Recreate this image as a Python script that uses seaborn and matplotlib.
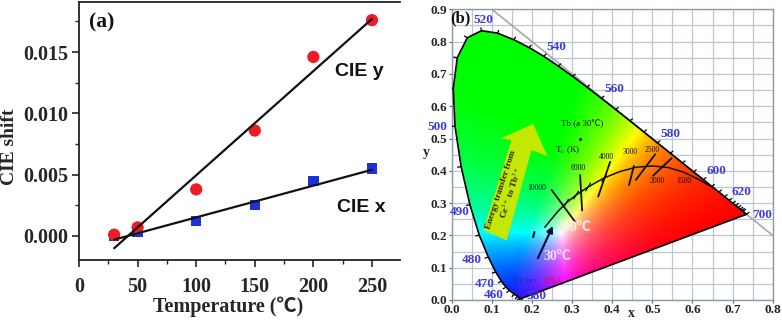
import numpy as np
import pandas as pd
import matplotlib
matplotlib.use("Agg")
import matplotlib.pyplot as plt
from matplotlib.patches import Polygon
from matplotlib.ticker import MultipleLocator
import seaborn as sns

temps = [30, 50, 100, 150, 200, 250]
cie_y = [0.0001, 0.0007, 0.0038, 0.0086, 0.0146, 0.0176]
cie_x = [0.0000, 0.0003, 0.0012, 0.0025, 0.0045, 0.0055]
fit_t = [30, 250]
fit_y = [-0.0010, 0.0177]
fit_x = [-0.0003, 0.0054]

locus_x = [.1741,.1733,.1714,.1689,.1644,.1566,.1440,.1355,.1241,.1096,.0913,.0687,.0454,.0235,.0082,.0039,.0139,.0389,
           .0743,.1142,.1547,.1929,.2296,.2658,.3016,.3373,.3731,.4087,.4441,.4788,.5125,.5448,.5752,.6029,.6270,.6482,
           .6658,.6801,.6915,.7006,.7079,.7140,.7190,.7230,.7260,.7347]
locus_y = [.0050,.0048,.0051,.0069,.0109,.0177,.0297,.0399,.0578,.0868,.1327,.2007,.2950,.4127,.5384,.6548,.7502,.8120,
           .8338,.8262,.8059,.7816,.7543,.7243,.6923,.6589,.6245,.5896,.5547,.5202,.4866,.4544,.4242,.3965,.3725,.3514,
           .3340,.3197,.3083,.2993,.2920,.2859,.2809,.2770,.2740,.2653]
wl_labels = ["520","540","560","580","600","620","700","500","490","480","470","460","380"]
wl_x = [.08,.261,.405,.544,.659,.723,.775,-.036,.021,.050,.083,.104,.212]
wl_y = [.867,.782,.654,.513,.398,.335,.263,.536,.272,.124,.049,.017,.012]
planck_x = [.232,.245,.265,.285,.31,.34,.38,.42,.46,.50,.54,.58,.62,.655]
planck_y = [.225,.245,.275,.30,.325,.35,.378,.398,.411,.415,.41,.395,.37,.345]
iso_x0 = [.249,.320,.395,.454,.507,.548]
iso_x1 = [.307,.325,.365,.442,.459,.502]
iso_y0 = [.341,.387,.428,.415,.451,.439]
iso_y1 = [.243,.277,.320,.356,.372,.385]
cct_labels = ["10000","6000","4000","3000","2500","2000","1500"]
cct_x = [.212,.315,.386,.446,.5,.511,.579]
cct_y = [.348,.410,.443,.458,.463,.367,.367]
arrow_x = [.079,.137,.199,.238,.203,.122,.149]
arrow_y = [.217,.184,.464,.446,.545,.50,.495]

ser = ['Liberation Serif', 'Noto Sans CJK SC', 'DejaVu Sans']
sns.set_theme(style="ticks")
plt.rcParams['font.family'] = ser
plt.rcParams['mathtext.fontset'] = 'stix'

W, H = 782, 320
fig = plt.figure(figsize=(W/100, H/100), dpi=100, facecolor="white")
a = fig.add_axes([79/W, 60/H, 321/W, 258/H])
b = fig.add_axes([451.7/W, 20/H, 321/W, 290.7/H])

# ---------- panel (a)
dfa = pd.DataFrame({"t": temps, "x": cie_x, "y": cie_y})
sns.lineplot(x=fit_t, y=fit_y, ax=a, color="#111111", lw=1.6, zorder=4)
sns.lineplot(x=fit_t, y=fit_x, ax=a, color="#111111", lw=1.6, zorder=4)
sns.scatterplot(data=dfa, x="t", y="x", ax=a, marker="s", s=55, color="#1a32d8", edgecolor="none", zorder=3)
sns.scatterplot(data=dfa, x="t", y="y", ax=a, marker="o", s=78, color="#ee1c25", edgecolor="none", zorder=3)
a.set_xlim(0, 273.9)
a.set_ylim(-0.00196, 0.01908)
a.xaxis.set_minor_locator(MultipleLocator(25))
a.yaxis.set_minor_locator(MultipleLocator(0.0025))
a.set_yticks([0, .005, .01, .015])
a.set_yticklabels(["0.000", "0.005", "0.010", "0.015"])
a.set_xticks([0, 50, 100, 150, 200, 250])
a.tick_params(which="major", length=5, width=1.2, labelsize=14.5, pad=3)
a.tick_params(axis="x", which="major", pad=7)
a.tick_params(which="minor", length=3, width=1.0)
for l in a.get_xticklabels() + a.get_yticklabels():
    l.set_fontweight("bold")
a.spines["right"].set_visible(False)
for s in ["left", "top", "bottom"]:
    a.spines[s].set_linewidth(1.3)
    a.spines[s].set_color("#222222")
a.set_xlabel("Temperature (℃)", fontsize=14.5, fontweight="bold")
a.xaxis.set_label_coords(.464, -.14)
a.set_ylabel("CIE shift", fontsize=14, fontweight="bold", va="center")
a.yaxis.set_label_coords(-.215, .438)
a.text(0.03, 0.90, "(a)", transform=a.transAxes, fontsize=15.5, fontweight="bold", color="#111111")
a.text(0.797, 0.713, "CIE y", transform=a.transAxes, fontsize=14, fontweight="bold", family="Liberation Sans", color="#111111")
a.text(0.804, 0.186, "CIE x", transform=a.transAxes, fontsize=14, fontweight="bold", family="Liberation Sans", color="#111111")

# ---------- panel (b)
xx, yy = np.meshgrid(np.linspace(0, .8, 400), np.linspace(0, .9, 450))
sx = xx + .04
sy = np.maximum(yy + .12, 1e-3)
X, Y, Z = sx/sy, np.ones_like(xx), (1-sx-sy)/sy
r = 3.2406*X - 1.5372*Y - 0.4986*Z
g = -0.9689*X + 1.8758*Y + 0.0415*Z
bb = 0.0557*X - 0.2040*Y + 1.0570*Z
rgb = np.clip(np.dstack([r, g, bb]), 0, None)
rgb = rgb / rgb.max(axis=2, keepdims=True)
rgb = rgb ** 1.1
im = b.imshow(rgb, origin="lower", extent=[0, .8, 0, .9], aspect="auto", zorder=1, interpolation="bilinear")
poly = Polygon(np.column_stack([locus_x, locus_y]), closed=True, transform=b.transData, fc="none", ec="none")
b.add_patch(poly)
im.set_clip_path(poly)

sns.lineplot(x=locus_x + locus_x[:1], y=locus_y + locus_y[:1], ax=b, sort=False, estimator=None, color="black", lw=1.2, zorder=3)
lx, ly = np.array(locus_x), np.array(locus_y)
dx, dy = np.gradient(lx), np.gradient(ly)
n = np.hypot(dx, dy)
for i in range(len(lx)):
    b.plot([lx[i], lx[i] + dy[i]/n[i]*-.009], [ly[i], ly[i] - dx[i]/n[i]*-.009], color="black", lw=.9, zorder=3)
b.plot([.1, .8], [.9, .2], color="#a8a8a8", lw=1.2, zorder=2)

sns.lineplot(x=planck_x, y=planck_y, ax=b, sort=False, estimator=None, color="#111111", lw=1.1, zorder=4)
for x0, x1, y0, y1 in zip(iso_x0, iso_x1, iso_y0, iso_y1):
    b.plot([x0, x1], [y0, y1], color="#111111", lw=1.3, zorder=4)
for px, py in zip(planck_x[3:7], planck_y[3:7]):
    b.plot([px-.006, px+.006], [py-.012, py+.012], color="#111111", lw=.9, zorder=4)
b.add_patch(Polygon(np.column_stack([arrow_x, arrow_y]), closed=True, fc="#c4e800", ec="none", zorder=2.5))
b.text(.137, .335, "Energy transfer from\nCe$^{3+}$ to Tb$^{3+}$", rotation=72, fontsize=6.5, fontweight="bold",
       color="#222222", ha="center", va="center", linespacing=1.0, zorder=5, rotation_mode="anchor")
b.annotate("", xy=(.255, .237), xytext=(.212, .122), arrowprops=dict(arrowstyle="-|>", color="#101040", lw=1.6, mutation_scale=9), zorder=5)
b.plot([.203, .206], [.195, .21], color="#111111", lw=1.6, zorder=5)
b.text(.303, .225, "250℃", color="#f6eef6", fontsize=10, fontweight="bold", ha="center", va="center", zorder=5)
b.text(.262, .135, "30℃", color="#f6dcf0", fontsize=10, fontweight="bold", ha="center", va="center", zorder=5)
b.text(.183, .06, "Ce (x=", color="#2020a0", fontsize=6, ha="center", va="center", zorder=5)
b.text(.248, .06, "30%)", color="#d01050", fontsize=6, ha="center", va="center", zorder=5)
b.text(.325, .545, "Tb (a 30℃)", color="#111111", fontsize=6.5, ha="center", va="center", zorder=5)
b.text(.29, .465, "T$_c$ (K)", color="#111111", fontsize=6.5, ha="center", va="center", zorder=5)
b.plot([.32], [.50], marker="o", ms=1.2, color="black", zorder=5)
for t, x, y in zip(cct_labels, cct_x, cct_y):
    b.text(x, y, t, fontsize=5.5, color="#111111", ha="center", va="center", zorder=5)
for t, x, y in zip(wl_labels, wl_x, wl_y):
    b.text(x, y, t, fontsize=9.5, color="#3a3ae0", fontweight="bold", ha="center", va="center", zorder=6, clip_on=False)

b.set_xlim(0, .8)
b.set_ylim(0, .9)
b.set_xticks(np.arange(0, .81, .1))
b.set_yticks(np.arange(0, .91, .1))
b.set_xticklabels([f"{v:.1f}" for v in np.arange(0, .81, .1)])
b.set_yticklabels([f"{v:.1f}" for v in np.arange(0, .91, .1)])
b.xaxis.set_minor_locator(MultipleLocator(.05))
b.yaxis.set_minor_locator(MultipleLocator(.05))
b.grid(True, which="both", color="#b8c8d0", lw=.9, zorder=0)
b.set_axisbelow(True)
b.tick_params(which="major", length=2.5, width=.8, labelsize=9.5, pad=0.5, color="#556070")
b.tick_params(which="minor", length=0)
for l in b.get_xticklabels() + b.get_yticklabels():
    l.set_fontweight("bold")
for s in b.spines.values():
    s.set_color("#8a9aa8")
    s.set_linewidth(1)
b.set_xlabel("x", fontsize=10, fontweight="bold", va="center")
b.xaxis.set_label_coords(.56, -.048)
b.set_ylabel("y", fontsize=10, fontweight="bold", rotation=0)
b.yaxis.set_label_coords(-.08, .485)
b.text(-.003, .86, "(b)", fontsize=12, fontweight="bold", color="#111111", zorder=7)

fig.savefig("out.png", dpi=100, facecolor="white")
